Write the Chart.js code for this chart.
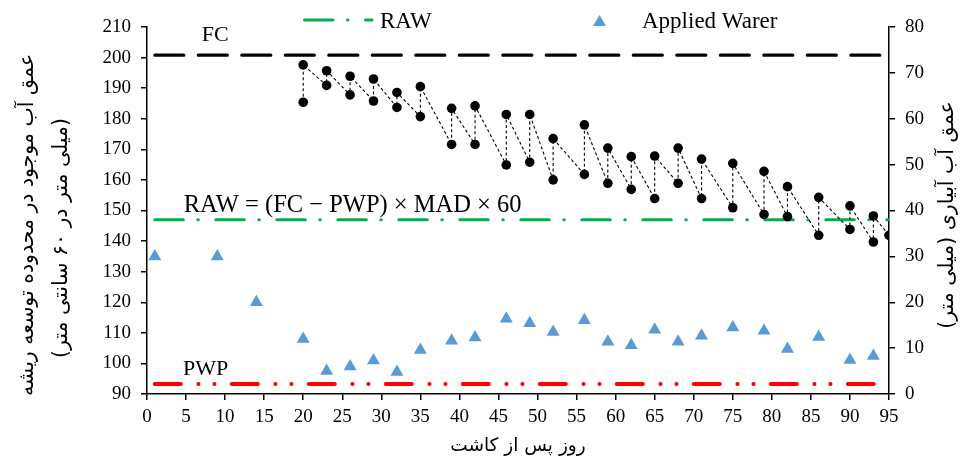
<!DOCTYPE html>
<html>
<head>
<meta charset="utf-8">
<script src="https://cdn.jsdelivr.net/npm/chart.js@4.4.1/dist/chart.umd.min.js"></script>
<style>
  html, body { margin: 0; padding: 0; background: #fff; }
  #wrap { width: 968px; height: 459px; }
</style>
</head>
<body>
<div id="wrap"><canvas id="waterChart" width="968" height="459"></canvas></div>
<script>
// days of irrigation and soil water depth just before / just after each irrigation (mm in 60 cm)
const irrigationDays = [20, 23, 26, 29, 32, 35, 39, 42, 46, 49, 52, 56, 59, 62, 65, 68, 71, 75, 79, 82, 86, 90, 93];
const depthBefore = [185.4, 190.9, 187.8, 185.8, 183.7, 180.7, 171.6, 171.6, 164.9, 165.8, 160.0, 161.8, 158.9, 156.9, 153.9, 158.9, 153.9, 150.9, 148.7, 148.0, 141.9, 143.8, 139.7];
const depthAfter = [197.6, 195.7, 193.9, 193.0, 188.6, 190.5, 183.4, 184.2, 181.4, 181.4, 173.5, 178.0, 170.4, 167.6, 167.8, 170.4, 166.8, 165.4, 162.8, 157.8, 154.3, 151.5, 148.2];
const lastDay = 95;
const lastDepth = 141.9;

// applied irrigation water (right axis, mm)
const appliedDays = [1, 9, 14, 20, 23, 26, 29, 32, 35, 39, 42, 46, 49, 52, 56, 59, 62, 65, 68, 71, 75, 79, 82, 86, 90, 93];
const appliedWater = [30, 30, 20, 12, 5, 6, 7.3, 4.8, 9.6, 11.6, 12.3, 16.4, 15.4, 13.5, 16.1, 11.4, 10.6, 14, 11.4, 12.7, 14.5, 13.8, 9.8, 12.4, 7.4, 8.3];

// reference levels
const FC = 200.8;
const RAW = 147;
const PWP = 93.3;
const levelDays = [1, 95];

const serif = "'Liberation Serif', 'Times New Roman', serif";
const persian = "'DejaVu Sans', sans-serif";

const soilPoints = [];
irrigationDays.forEach((d, i) => {
  soilPoints.push({ x: d, y: depthBefore[i] });
  soilPoints.push({ x: d, y: depthAfter[i] });
});
soilPoints.push({ x: lastDay, y: lastDepth });

const levelLine = (v) => levelDays.map(d => ({ x: d, y: v }));

Chart.defaults.font.family = serif;
Chart.defaults.color = "#000";

const labelsPlugin = {
  id: "labelsPlugin",
  afterDraw(chart) {
    const ctx = chart.ctx;
    const xs = chart.scales.x;
    const ys = chart.scales.y;
    ctx.save();
    ctx.fillStyle = "#000";
    ctx.textAlign = "left";
    ctx.textBaseline = "alphabetic";

    // level labels
    ctx.font = "22px " + serif;
    ctx.fillText("FC", xs.getPixelForValue(7), ys.getPixelForValue(FC) - 14);
    ctx.fillText("PWP", xs.getPixelForValue(4.6), ys.getPixelForValue(PWP) - 9);
    ctx.font = "24.5px " + serif;
    ctx.fillText("RAW = (FC \u2212 PWP) \u00d7 MAD \u00d7 60", xs.getPixelForValue(4.7), ys.getPixelForValue(RAW) - 8);

    // legend
    const rawSet = chart.data.datasets[3];
    ctx.save();
    ctx.strokeStyle = rawSet.borderColor;
    ctx.lineWidth = rawSet.borderWidth;
    ctx.lineCap = "round";
    ctx.setLineDash(rawSet.borderDash);
    ctx.beginPath();
    ctx.moveTo(304.5, 20);
    ctx.lineTo(372, 20);
    ctx.stroke();
    ctx.restore();
    ctx.font = "23px " + serif;
    ctx.fillText("RAW", 380, 28);

    ctx.fillStyle = "#5B9BD5";
    ctx.beginPath();
    ctx.moveTo(599.5, 15);
    ctx.lineTo(606, 26);
    ctx.lineTo(593, 26);
    ctx.closePath();
    ctx.fill();
    ctx.fillStyle = "#000";
    ctx.fillText("Applied Warer", 642, 28);

    // axis titles
    ctx.font = "18.5px " + persian;
    ctx.direction = "rtl";
    ctx.textAlign = "center";
    ctx.textBaseline = "middle";
    ctx.fillText("روز پس از کاشت", (xs.left + xs.right) / 2, 446);

    const vertical = (text, x, y) => {
      ctx.save();
      ctx.translate(x, y);
      ctx.rotate(-Math.PI / 2);
      ctx.fillText(text, 0, 0);
      ctx.restore();
    };
    ctx.font = "20.5px " + persian;
    vertical("عمق آب موجود در محدوده توسعه ریشه", 28, 225);
    vertical("(میلی متر در ۶۰ سانتی متر)", 62, 238);
    vertical("عمق آب آبیاری (میلی متر)", 948, 215);
    ctx.restore();
  }
};

const axisStyle = {
  border: { color: "#000", width: 1.5 },
  grid: { display: true, drawOnChartArea: false, drawTicks: true, tickLength: 6, color: "#000", lineWidth: 1.5 },
};

new Chart(document.getElementById("waterChart"), {
  type: "scatter",
  data: {
    datasets: [
      {
        label: "Soil water",
        data: soilPoints,
        showLine: true,
        borderColor: "#000",
        borderWidth: 1.1,
        borderDash: [3, 2.5],
        backgroundColor: "#000",
        pointBackgroundColor: "#000",
        pointRadius: 4.8,
        pointBorderWidth: 0,
        yAxisID: "y",
      },
      {
        label: "Applied Warer",
        data: appliedDays.map((d, i) => ({ x: d, y: appliedWater[i] })),
        showLine: false,
        pointStyle: "triangle",
        pointRadius: 7.5,
        pointBorderWidth: 0,
        backgroundColor: "#5B9BD5",
        pointBackgroundColor: "#5B9BD5",
        yAxisID: "y1",
      },
      {
        label: "FC",
        data: levelLine(FC),
        showLine: true,
        borderColor: "#000",
        borderWidth: 3.2,
        borderDash: [29, 14.5],
        borderCapStyle: "round",
        pointRadius: 0,
        yAxisID: "y",
      },
      {
        label: "RAW",
        data: levelLine(RAW),
        showLine: true,
        borderColor: "#00B050",
        borderWidth: 3,
        borderDash: [28.5, 14.5, 0.5, 17.5],
        borderCapStyle: "round",
        pointRadius: 0,
        yAxisID: "y",
      },
      {
        label: "PWP",
        data: levelLine(PWP),
        showLine: true,
        borderColor: "#FF0000",
        borderWidth: 4,
        borderDash: [26, 17.6, 0.1, 15.9, 0.1, 17.3],
        borderCapStyle: "round",
        pointRadius: 0,
        yAxisID: "y",
      },
    ],
  },
  options: {
    responsive: false,
    animation: false,
    layout: { padding: { top: 27, left: 0, right: 0, bottom: 0 } },
    plugins: {
      legend: { display: false },
      tooltip: { enabled: false },
    },
    scales: {
      x: {
        type: "linear",
        min: 0,
        max: 95,
        ...axisStyle,
        ticks: { stepSize: 5, font: { size: 19 }, color: "#000", padding: 6, maxRotation: 0 },
        afterFit(scale) { scale.height = 65; },
      },
      y: {
        position: "left",
        min: 90,
        max: 210,
        ...axisStyle,
        ticks: { stepSize: 10, font: { size: 19 }, color: "#000", padding: 10 },
        afterFit(scale) { scale.width = 147; },
      },
      y1: {
        position: "right",
        min: 0,
        max: 80,
        ...axisStyle,
        ticks: { stepSize: 10, font: { size: 19 }, color: "#000", padding: 10 },
        afterFit(scale) { scale.width = 79; },
      },
    },
  },
  plugins: [labelsPlugin],
});
</script>
</body>
</html>
